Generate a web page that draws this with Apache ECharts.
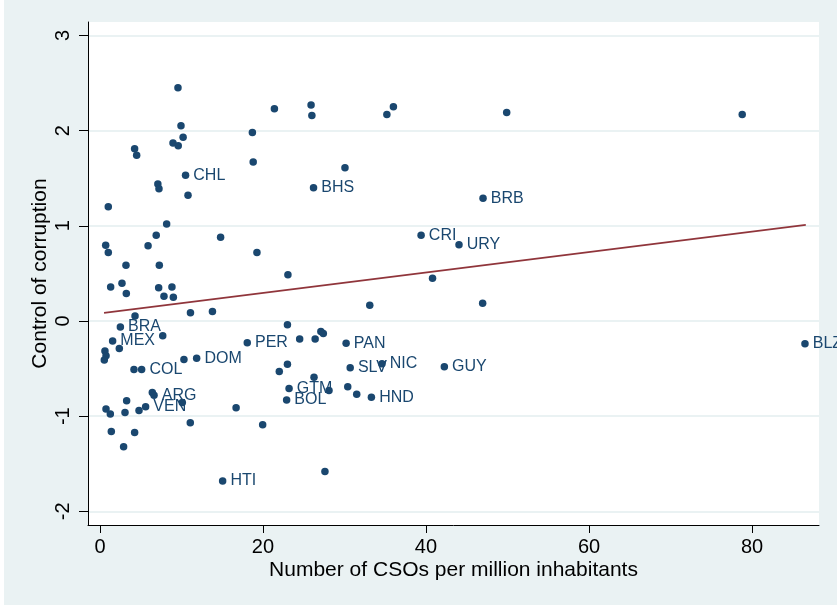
<!DOCTYPE html>
<html>
<head>
<meta charset="utf-8">
<script src="https://cdn.jsdelivr.net/npm/echarts@6/dist/echarts.min.js"></script>
<style>
html,body{margin:0;padding:0;background:#ffffff;}
#c{position:absolute;left:4px;top:0;width:833px;height:605px;}
</style>
</head>
<body>
<div id="c"></div>
<script>
// Country labels ("" = unlabeled point)
const countryLabels = [
  "", "", "", "", "", "", "", "CHL", "", "", "", "", "",
  "", "", "", "", "", "", "", "", "", "", "", "", "", "", "", "", "",
  "BRA", "", "MEX", "", "", "", "", "", "DOM", "", "COL", "", "ARG", "", "", "", "", "", "", "VEN",
  "", "", "", "", "", "", "HTI", "", "PER", "", "", "", "", "", "PAN", "", "", "", "SLV", "NIC",
  "GTM", "", "", "", "HND", "BOL", "", "", "", "", "", "", "", "", "", "BHS",
  "", "BRB", "CRI", "URY", "", "", "GUY", "", "BLZ", "", ""
];
// Number of CSOs per million inhabitants
const csoPerMillion = [
  9.57, 9.94, 10.2, 8.96, 9.6, 4.25, 4.5, 10.5, 7.1, 7.24, 10.8, 1.02, 8.18,
  0.7, 1.02, 6.9, 5.9, 14.8, 3.19, 7.28, 1.31, 2.7, 3.23, 7.2, 8.83, 7.85, 9.0, 11.1, 13.8, 4.3,
  2.5, 7.7, 1.55, 2.37, 0.61, 0.74, 0.53, 10.3, 11.86, 4.17, 5.11, 6.42, 6.63, 10.1, 3.27, 0.74, 1.27, 3.07, 4.79, 5.6,
  1.39, 4.25, 2.9, 11.08, 16.7, 19.96, 15.05, 27.6, 18.07, 23.0, 24.5, 26.4, 27.1, 27.4, 30.2, 22.0, 23.0, 26.26, 30.7, 34.6,
  23.2, 28.1, 30.4, 31.5, 33.3, 22.9, 33.1, 21.4, 25.9, 26.0, 35.2, 36.0, 18.7, 18.8, 30.06, 26.2,
  49.9, 47.0, 39.4, 44.05, 40.8, 46.95, 42.25, 78.8, 86.5, 19.26, 23.06
];
// Control of corruption
const controlOfCorruption = [
  2.45, 2.05, 1.93, 1.87, 1.84, 1.81, 1.74, 1.53, 1.44, 1.39, 1.32, 1.20, 1.02,
  0.795, 0.72, 0.90, 0.79, 0.88, 0.585, 0.585, 0.357, 0.396, 0.29, 0.35, 0.357, 0.26, 0.25, 0.087, 0.10, 0.053,
  -0.063, -0.155, -0.21, -0.29, -0.315, -0.364, -0.41, -0.405, -0.39, -0.51, -0.51, -0.75, -0.78, -0.855, -0.837, -0.924, -0.977, -0.96, -0.94, -0.90,
  -1.16, -1.17, -1.32, -1.07, -0.91, -1.09, -1.68, -1.58, -0.228, -0.039, -0.19, -0.19, -0.11, -0.13, -0.235, -0.53, -0.455, -0.59, -0.49, -0.45,
  -0.71, -0.73, -0.69, -0.77, -0.80, -0.83, 0.165, 2.23, 2.27, 2.16, 2.17, 2.25, 1.98, 1.67, 1.61, 1.40,
  2.19, 1.29, 0.90, 0.80, 0.45, 0.186, -0.48, 2.17, -0.238, 0.72, 0.486
];
// Fitted line endpoints
const fitX = [0.5, 86.6];
const fitY = [0.085, 1.01];
// Tick values
const xTicks = [0, 20, 40, 60, 80];
const yTicks = [-2, -1, 0, 1, 2, 3];

const navy = '#1a476f';
const font = '"Liberation Sans", Arial, sans-serif';

const pts = csoPerMillion.map((x, i) => ({ name: countryLabels[i], value: [x, controlOfCorruption[i]] }));
const fit = fitX.map((x, i) => [x, fitY[i]]);

const chart = echarts.init(document.getElementById('c'));
chart.setOption({
  backgroundColor: '#eaf2f3',
  animation: false,
  grid: { left: 84, right: 18, top: 22, bottom: 80, show: true, backgroundColor: '#ffffff', borderWidth: 0 },
  xAxis: {
    type: 'value', min: -1.47, max: 88.22,
    name: 'Number of CSOs per million inhabitants',
    nameLocation: 'middle', nameGap: 35, nameMoveOverlap: false,
    nameTextStyle: { fontFamily: font, fontSize: 21, color: '#000' },
    axisLine: { show: true, onZero: false, lineStyle: { color: '#000', width: 1 } },
    axisTick: { show: true, length: 8, customValues: xTicks, lineStyle: { color: '#000' } },
    axisLabel: { customValues: xTicks, margin: 12, fontFamily: font, fontSize: 20, color: '#000' },
    splitLine: { show: false }
  },
  yAxis: {
    type: 'value', min: -2.143, max: 3.141,
    name: 'Control of corruption',
    nameLocation: 'middle', nameGap: 37, nameMoveOverlap: false,
    nameTextStyle: { fontFamily: font, fontSize: 21, color: '#000' },
    axisLine: { show: true, onZero: false, lineStyle: { color: '#000', width: 1 } },
    axisTick: { show: true, length: 9, customValues: yTicks, lineStyle: { color: '#000' } },
    axisLabel: { customValues: yTicks, rotate: 90, margin: 15, fontFamily: font, fontSize: 20, color: '#000' },
    splitLine: { show: true, lineStyle: { color: '#eaf2f3', width: 2 } }
  },
  series: [
    {
      type: 'scatter',
      data: pts,
      symbolSize: 7.5,
      itemStyle: { color: navy, opacity: 1 },
      label: {
        show: true, position: 'right', distance: 4,
        formatter: p => p.name,
        fontFamily: font, fontSize: 16, color: navy
      },
      labelLayout: { hideOverlap: false },
      z: 3
    },
    {
      type: 'line',
      data: fit,
      symbol: 'none',
      lineStyle: { color: '#90353b', width: 1.6 },
      z: 2
    }
  ]
});
</script>
</body>
</html>
